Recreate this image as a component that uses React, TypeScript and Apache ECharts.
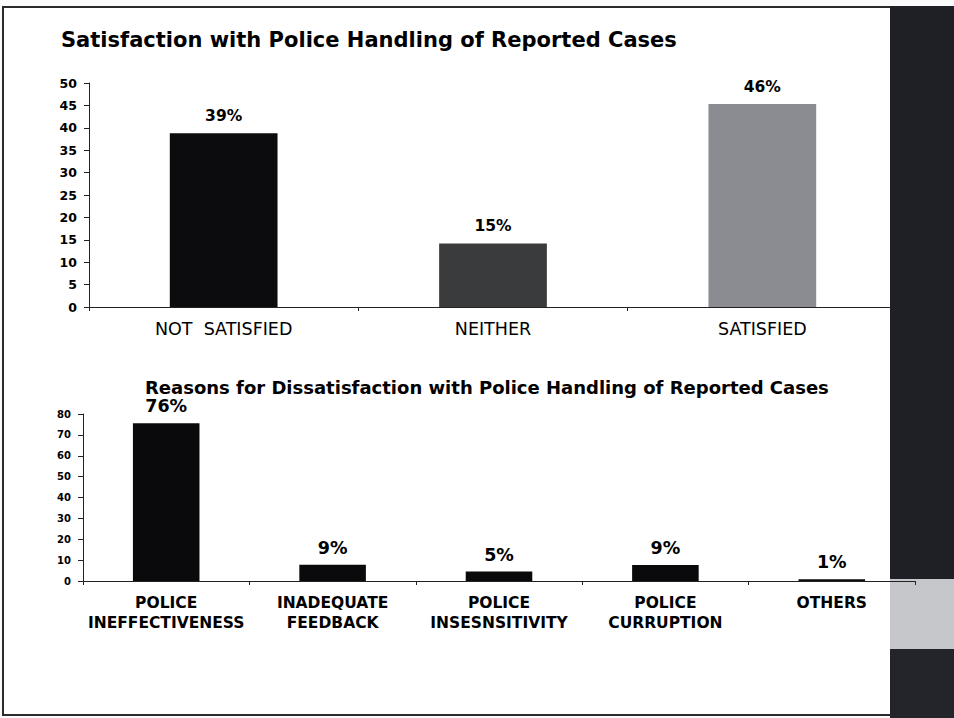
import React, { useEffect, useRef } from "react";
import * as echarts from "echarts";

const topTitle = "Satisfaction with Police Handling of Reported Cases";
const topCategories = ["NOT  SATISFIED", "NEITHER", "SATISFIED"];
const topValues = [38.8, 14.2, 45.3];
const topLabels = ["39%", "15%", "46%"];
const topColors = ["#0c0c0e", "#3a3b3d", "#8b8c91"];

const bottomTitle = "Reasons for Dissatisfaction with Police Handling of Reported Cases";
const bottomCategories = [
  "POLICE\nINEFFECTIVENESS",
  "INADEQUATE\nFEEDBACK",
  "POLICE\nINSESNSITIVITY",
  "POLICE\nCURRUPTION",
  "OTHERS",
];
const bottomValues = [75.6, 7.8, 4.5, 7.7, 0.8];
const bottomLabels = ["76%", "9%", "5%", "9%", "1%"];

export default function App() {
  const ref = useRef<HTMLDivElement>(null);
  useEffect(() => {
    if (!ref.current) return;
    const chart = echarts.init(ref.current, null, { renderer: "svg" });
    const axisLine = { lineStyle: { color: "#222", width: 1 } };
    const option: any = {
      animation: false,
      backgroundColor: "#fafafa",
      graphic: [
        { type: "rect", z: -10, shape: { x: 3, y: 7, width: 890, height: 708 }, style: { fill: "#ffffff", stroke: "#2a2a2a", lineWidth: 2 } },
        { type: "rect", z: 100, shape: { x: 890, y: 6, width: 64, height: 573 }, style: { fill: "#1e2025" } },
        { type: "rect", z: -5, shape: { x: 890, y: 579, width: 64, height: 70 }, style: { fill: "#c6c7cb" } },
        { type: "rect", z: 100, shape: { x: 890, y: 649, width: 64, height: 69 }, style: { fill: "#23252a" } },
        { type: "text", z: 100, x: 61, y: 40, style: { text: topTitle, font: "bold 21px 'DejaVu Sans', sans-serif", fill: "#000", textVerticalAlign: "middle" } },
        { type: "text", z: 100, x: 145, y: 387, style: { text: bottomTitle, font: "bold 18px 'DejaVu Sans', sans-serif", fill: "#000", textVerticalAlign: "middle" } },
      ],
      grid: [
        { left: 89, right: 57, top: 83, height: 224 },
        { left: 83, right: 39, top: 414, height: 167 },
      ],
      xAxis: [
        {
          gridIndex: 0, type: "category", data: topCategories,
          axisLine, axisTick: { show: true, length: 4, lineStyle: { color: "#222" } },
          axisLabel: { color: "#000", fontSize: 17.5, fontFamily: "'DejaVu Sans', sans-serif", margin: 13, interval: 0 },
        },
        {
          gridIndex: 1, type: "category", data: bottomCategories,
          axisLine, axisTick: { show: true, length: 4, lineStyle: { color: "#222" } },
          axisLabel: { color: "#000", fontSize: 15.5, fontWeight: "bold", fontFamily: "'DejaVu Sans', sans-serif", margin: 12, lineHeight: 20, verticalAlign: "top", interval: 0, hideOverlap: false },
        },
      ],
      yAxis: [
        {
          gridIndex: 0, type: "value", min: 0, max: 50, interval: 5,
          axisLine: { show: true, lineStyle: { color: "#222" } },
          axisTick: { show: true, length: 5, lineStyle: { color: "#222" } },
          splitLine: { show: false },
          axisLabel: { color: "#000", fontSize: 12.5, fontWeight: "bold", fontFamily: "'DejaVu Sans', sans-serif", margin: 12 },
        },
        {
          gridIndex: 1, type: "value", min: 0, max: 80, interval: 10,
          axisLine: { show: true, lineStyle: { color: "#222" } },
          axisTick: { show: true, length: 5, lineStyle: { color: "#222" } },
          splitLine: { show: false },
          axisLabel: { color: "#000", fontSize: 10, fontWeight: "bold", fontFamily: "'DejaVu Sans', sans-serif", margin: 12 },
        },
      ],
      series: [
        {
          type: "bar", xAxisIndex: 0, yAxisIndex: 0, barWidth: "40%",
          data: topValues.map((v, i) => ({ value: v, itemStyle: { color: topColors[i] } })),
          label: {
            show: true, position: "top", distance: 9, color: "#000", fontSize: 15.5, fontWeight: "bold",
            fontFamily: "'DejaVu Sans', sans-serif",
            formatter: (p: any) => topLabels[p.dataIndex],
          },
        },
        {
          type: "bar", xAxisIndex: 1, yAxisIndex: 1, barWidth: "40%",
          data: bottomValues,
          itemStyle: { color: "#0a0a0c" },
          label: {
            show: true, position: "top", distance: 8, color: "#000", fontSize: 17.5, fontWeight: "bold",
            fontFamily: "'DejaVu Sans', sans-serif",
            formatter: (p: any) => bottomLabels[p.dataIndex],
          },
        },
      ],
    };
    chart.setOption(option);
    return () => chart.dispose();
  }, []);
  return <div ref={ref} style={{ position: "fixed", left: 0, top: 0, width: 954, height: 718 }} />;
}
